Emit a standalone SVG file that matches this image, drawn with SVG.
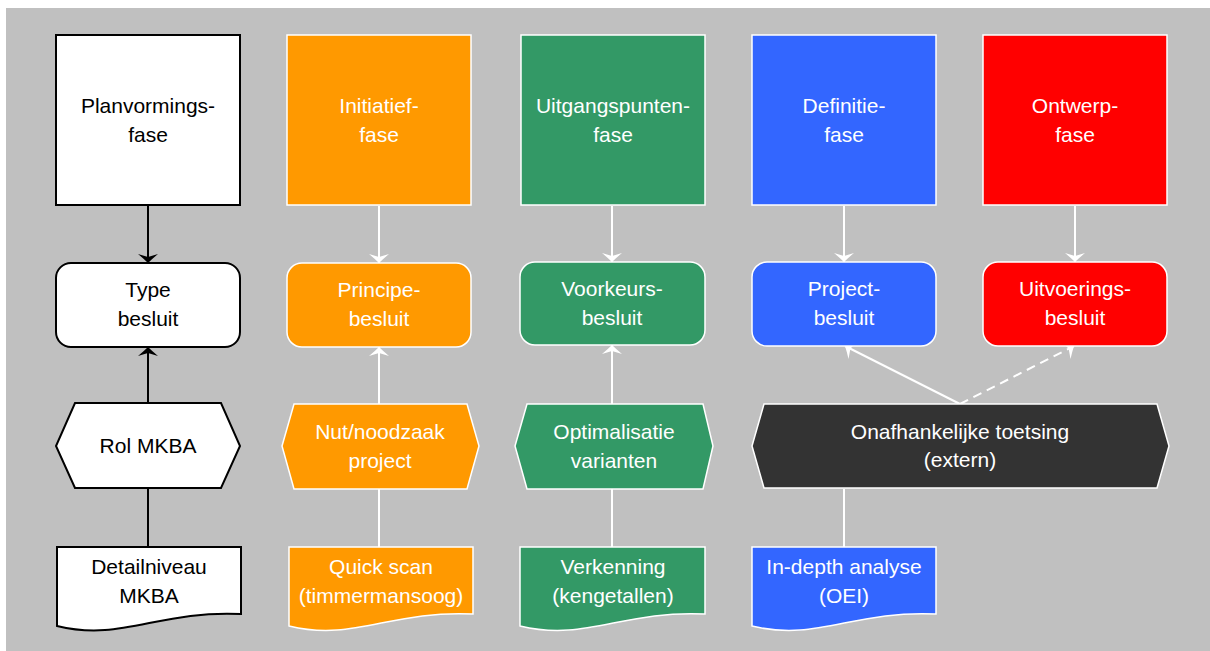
<svg xmlns="http://www.w3.org/2000/svg" width="1210" height="651" viewBox="0 0 1210 651">
<style>
text{font-family:"Liberation Sans",Arial,sans-serif;font-size:21px;text-anchor:middle}
.w{fill:#ffffff}
.k{fill:#000000}
.bw{fill:#ffffff;stroke:#000000;stroke-width:2}
.or{fill:#ff9900;stroke:#ffffff;stroke-width:1.5}
.gr{fill:#339966;stroke:#ffffff;stroke-width:1.5}
.bl{fill:#3366ff;stroke:#ffffff;stroke-width:1.5}
.rd{fill:#ff0000;stroke:#ffffff;stroke-width:1.5}
.dk{fill:#333333;stroke:#ffffff;stroke-width:1.5}
.cw{stroke:#ffffff;stroke-width:2;fill:none}
.ck{stroke:#000000;stroke-width:2;fill:none}
</style>
<defs>
<marker id="aw" markerUnits="userSpaceOnUse" markerWidth="24" markerHeight="24" viewBox="-12 -12 24 24" refX="0" refY="0" orient="auto">
<path d="M0,0 Q-4,-4 -9,-10 L-6,0 L-9,10 Q-4,4 0,0 Z" fill="#ffffff"/>
</marker>
<marker id="ak" markerUnits="userSpaceOnUse" markerWidth="24" markerHeight="24" viewBox="-12 -12 24 24" refX="0" refY="0" orient="auto">
<path d="M0,0 Q-4,-4 -9,-10 L-6,0 L-9,10 Q-4,4 0,0 Z" fill="#000000"/>
</marker>
</defs>
<rect x="6" y="8" width="1204" height="643" fill="#c0c0c0"/>

<g id="connectors">
<line class="ck" x1="148" y1="206" x2="148" y2="263" marker-end="url(#ak)"/>
<line class="ck" x1="148" y1="403" x2="148" y2="347" marker-end="url(#ak)"/>
<line class="ck" x1="148" y1="489" x2="148" y2="547"/>
<line class="cw" x1="379" y1="206" x2="379" y2="263" marker-end="url(#aw)"/>
<line class="cw" x1="379" y1="404" x2="379" y2="347" marker-end="url(#aw)"/>
<line class="cw" x1="379" y1="489" x2="379" y2="547"/>
<line class="cw" x1="612" y1="206" x2="612" y2="262" marker-end="url(#aw)"/>
<line class="cw" x1="612" y1="404" x2="612" y2="345" marker-end="url(#aw)"/>
<line class="cw" x1="612" y1="489" x2="612" y2="547"/>
<line class="cw" x1="844" y1="206" x2="844" y2="262" marker-end="url(#aw)"/>
<line class="cw" x1="1075" y1="206" x2="1075" y2="262" marker-end="url(#aw)"/>
<line class="cw" x1="960" y1="404" x2="845" y2="346" marker-end="url(#aw)"/>
<line class="cw" x1="960" y1="404" x2="1074" y2="346" stroke-dasharray="9,6" marker-end="url(#aw)"/>
<line class="cw" x1="844" y1="489" x2="844" y2="547"/>
</g>

<g id="planvormingsfase">
<rect class="bw" x="56" y="35" width="184" height="170"/>
<text class="k" x="148" y="113">Planvormings-</text>
<text class="k" x="148" y="142">fase</text>
</g>
<g id="type-besluit">
<rect class="bw" x="56" y="263" width="184" height="84" rx="15"/>
<text class="k" x="148" y="297">Type</text>
<text class="k" x="148" y="326">besluit</text>
</g>
<g id="rol-mkba">
<polygon class="bw" points="75,403 221,403 240,446 221,488 75,488 56,446"/>
<text class="k" x="148" y="453">Rol MKBA</text>
</g>
<g id="detailniveau">
<path class="bw" d="M57,547 H241 V614 C158,610 122,642 57,626 Z"/>
<text class="k" x="149" y="574">Detailniveau</text>
<text class="k" x="149" y="603">MKBA</text>
</g>

<g id="initiatieffase">
<rect class="or" x="287" y="35" width="184" height="170"/>
<text class="w" x="379" y="113">Initiatief-</text>
<text class="w" x="379" y="142">fase</text>
</g>
<g id="principebesluit">
<rect class="or" x="287" y="263" width="184" height="84" rx="15"/>
<text class="w" x="379" y="297">Principe-</text>
<text class="w" x="379" y="326">besluit</text>
</g>
<g id="nut-noodzaak">
<polygon class="or" points="294,404 467,404 479,446 467,489 294,489 282,446"/>
<text class="w" x="380" y="439">Nut/noodzaak</text>
<text class="w" x="380" y="468">project</text>
</g>
<g id="quick-scan">
<path class="or" d="M289,547 H473 V614 C390,610 354,642 289,626 Z"/>
<text class="w" x="381" y="574">Quick scan</text>
<text class="w" x="381" y="603">(timmermansoog)</text>
</g>

<g id="uitgangspuntenfase">
<rect class="gr" x="521" y="35" width="184" height="170"/>
<text class="w" x="613" y="113">Uitgangspunten-</text>
<text class="w" x="613" y="142">fase</text>
</g>
<g id="voorkeursbesluit">
<rect class="gr" x="520" y="262" width="185" height="83" rx="15"/>
<text class="w" x="612" y="296">Voorkeurs-</text>
<text class="w" x="612" y="325">besluit</text>
</g>
<g id="optimalisatie">
<polygon class="gr" points="527,404 703,404 713,446 703,489 527,489 515,446"/>
<text class="w" x="614" y="439">Optimalisatie</text>
<text class="w" x="614" y="468">varianten</text>
</g>
<g id="verkenning">
<path class="gr" d="M520,547 H705 V614 C622,610 586,642 520,626 Z"/>
<text class="w" x="613" y="574">Verkenning</text>
<text class="w" x="613" y="603">(kengetallen)</text>
</g>

<g id="definitiefase">
<rect class="bl" x="752" y="35" width="184" height="170"/>
<text class="w" x="844" y="113">Definitie-</text>
<text class="w" x="844" y="142">fase</text>
</g>
<g id="projectbesluit">
<rect class="bl" x="752" y="262" width="184" height="84" rx="15"/>
<text class="w" x="844" y="296">Project-</text>
<text class="w" x="844" y="325">besluit</text>
</g>
<g id="in-depth">
<path class="bl" d="M752,547 H936 V614 C853,610 817,642 752,626 Z"/>
<text class="w" x="844" y="574">In-depth analyse</text>
<text class="w" x="844" y="603">(OEI)</text>
</g>

<g id="ontwerpfase">
<rect class="rd" x="983" y="35" width="184" height="170"/>
<text class="w" x="1075" y="113">Ontwerp-</text>
<text class="w" x="1075" y="142">fase</text>
</g>
<g id="uitvoeringsbesluit">
<rect class="rd" x="983" y="262" width="184" height="84" rx="15"/>
<text class="w" x="1075" y="296">Uitvoerings-</text>
<text class="w" x="1075" y="325">besluit</text>
</g>

<g id="onafhankelijke-toetsing">
<polygon class="dk" points="764,404 1157,404 1169,446 1157,488 764,488 752,446"/>
<text class="w" x="960" y="439">Onafhankelijke toetsing</text>
<text class="w" x="960" y="467">(extern)</text>
</g>
</svg>
